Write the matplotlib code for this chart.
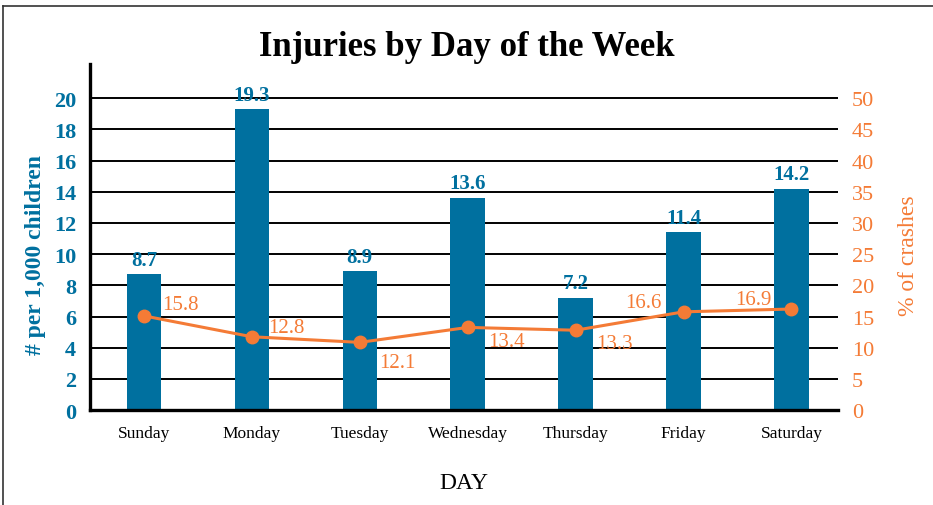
import numpy as np
import matplotlib.pyplot as plt
from matplotlib.lines import Line2D

days = ['Sunday', 'Monday', 'Tuesday', 'Wednesday', 'Thursday', 'Friday', 'Saturday']
injuries = [8.7, 19.3, 8.9, 13.6, 7.2, 11.4, 14.2]
crash_pct = [15.1, 11.75, 10.85, 13.25, 12.8, 15.75, 16.2]
crash_labels = ['15.8', '12.8', '12.1', '13.4', '13.3', '16.6', '16.9']
left_ticks = np.arange(0, 21, 2)
right_ticks = np.arange(0, 51, 5)

blue = '#00709f'
orange = '#f47b36'

plt.rcParams['font.family'] = ['Liberation Serif', 'DejaVu Serif']

fig = plt.figure(figsize=(9.33, 5.06), dpi=100)
ax = fig.add_axes([0.0965, 0.1877, 0.8015, 0.6838])
ax2 = ax.twinx()

x = np.arange(len(days))

# grid lines drawn by hand so they sit behind the bars
for t in left_ticks:
    ax.axhline(t, color='black', lw=1.4, zorder=0)

ax.bar(x, injuries, width=0.32, color=blue, zorder=2)
for i, v in enumerate(injuries):
    ax.text(x[i], v + 0.3, f'{v}', ha='center', va='bottom', color=blue,
            fontsize=15, fontweight='bold')

ax.set_xlim(-0.5, 6.43)
ax.set_ylim(0, 22.2)
ax.set_yticks(left_ticks)
ax.set_yticklabels([str(t) for t in left_ticks], color=blue, fontsize=16, fontweight='bold')
ax.set_xticks(x)
ax.set_xticklabels(days, fontsize=12.5)
ax.tick_params(axis='x', length=0, pad=11)
ax.tick_params(axis='y', length=0, pad=10)
ax.set_ylabel('# per 1,000 children', color=blue, fontsize=17, fontweight='bold')
ax.yaxis.set_label_coords(-0.059, 0.45)
ax.set_xlabel('DAY', fontsize=17, labelpad=22)

for s in ['top', 'right']:
    ax.spines[s].set_visible(False)
ax.spines['left'].set_linewidth(2.4)
ax.spines['bottom'].set_linewidth(2.4)

ax2.plot(x, crash_pct, color=orange, lw=2.2, marker='o', markersize=9, zorder=3)
offsets = [(13, 1, 'left', 'bottom'), (12, 0, 'left', 'bottom'), (14, -8, 'left', 'top'),
           (15, -3, 'left', 'top'), (15, -3, 'left', 'top'), (-16, 0, 'right', 'bottom'),
           (-14, 0, 'right', 'bottom')]
for i, lab in enumerate(crash_labels):
    dx, dy, ha, va = offsets[i]
    ax2.annotate(lab, (x[i], crash_pct[i]), xytext=(dx, dy), textcoords='offset points',
                 ha=ha, va=va, color=orange, fontsize=15)
ax2.set_ylim(0, 55.5)
ax2.set_yticks(right_ticks)
ax2.set_yticklabels([str(t) for t in right_ticks], color=orange, fontsize=16)
ax2.tick_params(axis='y', length=0, pad=10)
ax2.set_ylabel('% of crashes', color=orange, fontsize=17)
ax2.yaxis.set_label_coords(1.081, 0.45)
for s in ['top', 'right', 'left', 'bottom']:
    ax2.spines[s].set_visible(False)

fig.text(0.5, 0.906, 'Injuries by Day of the Week', ha='center', va='center',
         fontsize=25, fontweight='bold')

# frame: only top and left edges show in the original
fig.lines.append(Line2D([0.0037, 1.0], [0.987, 0.987], transform=fig.transFigure,
                        color='#333333', lw=1.2))
fig.lines.append(Line2D([0.0037, 0.0037], [0.0, 0.987], transform=fig.transFigure,
                        color='#333333', lw=1.2))

fig.savefig('out.png', dpi=100)
